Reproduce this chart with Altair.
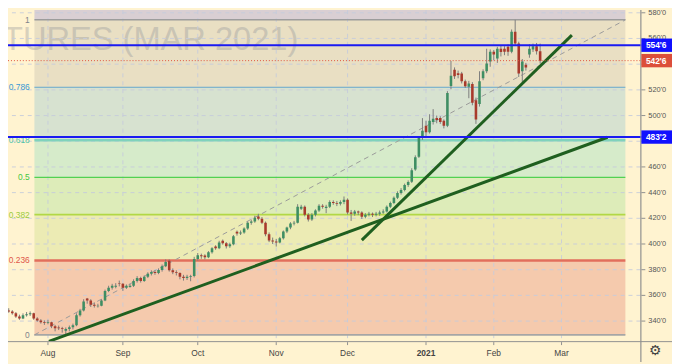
import altair as alt
import pandas as pd

# ---------------- data ----------------
opens = [349.5, 348.25, 347.5, 346, 343.5, 342, 344.5, 345.25, 346, 342,
         340.5, 339, 338.5, 339, 336, 335, 334.5, 332.5, 333.75, 335.25,
         336.75, 344.5, 348.25, 357.5, 356, 352.75, 351.5, 352, 356, 363.5,
         366, 366.75, 369.5, 369, 366, 366.5, 367.5, 371.25, 373.5, 371.25,
         374.5, 376.75, 378.25, 377.5, 379.75, 382.75, 387, 379.5, 378, 377.5,
         374.5, 373.5, 374.5, 375, 388.25, 391.25, 391, 389.75, 393.5, 398,
         396.75, 402.5, 400.5, 398.25, 399.75, 409.5, 408.25, 409, 412, 416.5,
         417.5, 421.5, 419.75, 416.5, 407.5, 402.75, 402, 401.25, 404.5, 409.75,
         412.75, 416, 416.5, 427.5, 429, 422.75, 419, 422.75, 426, 429.75,
         428, 429, 432.75, 432, 431.25, 432.75, 434.5, 424.5, 423.5, 425.25,
         424.5, 421.25, 422.75, 423.5, 422.75, 423.5, 424.5, 425.25, 429, 432,
         436, 439.75, 442, 446, 448.5, 458, 468, 483.5, 492, 487,
         495, 498, 498, 496, 492, 523, 535.75, 533, 532.75, 526.75,
         522.5, 524.5, 512, 509, 529, 534.5, 542, 549.75, 544.5, 552,
         552, 553.5, 549.75, 565.25, 556, 534.5, 539.5, 547.5, 551.5, 554,
         550]
highs = [351, 350, 348.5, 347, 345, 346, 347, 347.5, 346.5, 343,
         341.5, 340.5, 341, 339.5, 337, 336.5, 335.5, 335, 336.5, 338,
         346, 349.5, 357, 358, 357, 354.5, 353.5, 357, 364.5, 367.5,
         369, 369.5, 371.5, 369.5, 368.5, 369, 372.5, 375, 374.5, 375.5,
         378, 379.5, 379.5, 381, 384, 388, 388, 381, 379.5, 378,
         376, 376, 376, 390, 393, 392.5, 392, 394.5, 397.5, 399,
         402.5, 403.5, 401.5, 401, 407, 410.5, 410.5, 413, 417.5, 419,
         422, 423.5, 421, 417.5, 409, 405, 404, 405.5, 410.5, 413.5,
         417, 418, 431, 430.5, 430, 424, 424, 427, 431, 431,
         430.5, 434, 434, 433.5, 434, 437, 435.5, 426.5, 426.5, 426,
         425.5, 424, 425, 424.5, 425, 426, 427, 430, 433, 437,
         441, 443.5, 447, 449.5, 459, 469, 484, 498, 496, 501,
         505, 500, 499.5, 497, 519, 542.5, 537.5, 535, 534, 528,
         527, 526, 514, 534.5, 536, 552, 551.5, 551, 553.5, 554.5,
         554, 555.5, 567, 574.5, 557.5, 544, 541, 555.5, 556, 556.5,
         556]
lows = [347, 346.5, 345, 342.5, 341, 341.5, 343.5, 344, 341, 339.5,
        338, 337, 337.5, 334.5, 332, 333, 331, 329.25, 332, 333.5,
        336, 343.5, 347.5, 353.5, 351, 350.5, 350.5, 351.5, 355.5, 362.5,
        364.5, 365.5, 367, 363.5, 365, 366, 366.5, 370, 370, 370.5,
        373.5, 375.5, 376, 376.5, 378.5, 382, 378.5, 376.5, 375.5, 372.5,
        371.5, 372, 371, 374, 387, 388.5, 388, 389, 392.5, 395.5,
        396, 399.5, 396.5, 397, 399, 406.5, 407, 408, 411, 415,
        416.5, 418.5, 415.5, 406, 401.5, 400, 398, 400.5, 403.5, 408.5,
        411.5, 414.5, 416, 426.5, 421.5, 417.5, 418, 421.5, 425, 427.5,
        424, 428, 430.5, 429.5, 430, 431, 423, 418, 422, 422.5,
        419.5, 420, 421.5, 421, 421.5, 422, 423.5, 424.5, 428, 431,
        435, 438.5, 441, 444.5, 447.5, 457, 467, 481, 483, 486,
        493, 494, 493.5, 490, 491, 520.5, 528.5, 529, 525, 521.5,
        513.5, 508, 493.5, 507, 527.5, 533, 538, 543, 541, 546,
        547, 546.5, 548.5, 554.5, 530, 525.5, 535, 545, 549.5, 547.5,
        540.5]
closes = [348.25, 347.5, 346, 343.5, 342, 344.5, 345.25, 346, 342, 340.5,
          339, 338.5, 339, 336, 334.5, 334.5, 333.75, 333.75, 335.25, 336.75,
          344.5, 348.25, 355.25, 356, 352.75, 352, 352, 356, 363.5, 366,
          367.5, 367.5, 369, 366, 367.5, 367.5, 371.25, 373.5, 371.25, 374.5,
          376.75, 378.25, 377.5, 379.75, 382.75, 386, 379.5, 378, 377.5, 374.5,
          373.5, 374.5, 375, 388.25, 391.25, 390.5, 389.75, 393.5, 396.75, 396.75,
          401.25, 400.5, 398.25, 399.75, 406, 408.25, 409, 412, 416.5, 417.5,
          420.5, 419.75, 416.5, 407.5, 402.75, 402, 401.25, 404.5, 409.75, 412.75,
          416, 416.5, 429, 429, 422.75, 419, 422.75, 426, 429.75, 429,
          429, 432.75, 432, 431.25, 432.75, 434.5, 424.5, 423.5, 425.25, 424.5,
          421.25, 422.75, 423.5, 422.75, 423.5, 424.5, 425.25, 429, 432, 436,
          439.75, 442, 446, 448.25, 457.5, 467.5, 483, 488.25, 487, 496,
          497.5, 496.5, 495, 492, 517.5, 531, 530.5, 531.5, 526.75, 522.75,
          525, 510, 497, 526.75, 534.5, 540.5, 549.75, 547.5, 552, 549.5,
          549.75, 549.75, 565.25, 556, 532.75, 542, 537.5, 552, 554, 550,
          542.75]

month_bars = [12, 33, 54, 76, 96, 118, 137, 156]
month_labels = ["Aug", "Sep", "Oct", "Nov", "Dec", "2021", "Feb", "Mar"]
grid_prices = [340, 360, 380, 400, 420, 440, 460, 480, 500, 520, 540, 560, 580]
label_prices = [340, 360, 380, 400, 420, 440, 460, 500, 520, 560, 580]

fib_ratios = [1, 0.786, 0.618, 0.5, 0.382, 0.236, 0]
fib_texts = ["1", "0.786", "0.618", "0.5", "0.382", "0.236", "0"]
fib_low, fib_high = 329.25, 574.5
fib_start_bar, fib_end_bar = 8.2, 173.9
band_top_ratios = [1.3, 1, 0.786, 0.618, 0.5, 0.382, 0.236]
band_bottom_ratios = [1, 0.786, 0.618, 0.5, 0.382, 0.236, 0]

level_prices = [554.75, 483.25]
level_texts = ["554'6", "483'2"]
last_price = [542.75]
last_text = ["542'6"]

trend_ids = ["long", "long", "steep", "steep"]
trend_bars = [12.27, 168.9, 100.0, 158.9]
trend_prices = [324.2, 483.1, 403.0, 562.6]

watermark = "TURES (MAR 2021)"

# ---------------- styles ----------------
band_colors = ["#d9cfd3", "#e9dfc3", "#d7e2d0", "#d6ebca", "#ddecb9", "#ecebb4", "#f5caad"]
fib_line_colors = ["#9c9c9c", "#64a6cc", "#80d2bc", "#52d152", "#b2d846", "#e26e5c", "#a6a6a6"]
fib_line_widths = [1.5, 1, 2.5, 1.2, 1.8, 2.5, 2]
fib_label_colors = ["#80838c", "#3a99d4", "#4fc3a8", "#43c743", "#9ccb3b", "#e0574a", "#80838c"]
UP, DOWN = "#3e8e63", "#a83a2c"
BG = "#fff3d0"
AX = "#8f8f8f"
FONT = "Liberation Sans"

W, H = 640, 335
xs = alt.Scale(domain=[2.18, 176.72], nice=False, zero=False)
ys = alt.Scale(domain=[324.38, 582.08], nice=False, zero=False)

# ---------------- frames ----------------
candles = pd.DataFrame({"bar": list(range(len(closes))), "open": opens,
                        "high": highs, "low": lows, "close": closes})
candles["dir"] = ["up" if c >= o else "down" for o, c in zip(opens, closes)]

rng = fib_high - fib_low
bands = pd.DataFrame({
    "b0": fib_start_bar, "b1": fib_end_bar,
    "p0": [fib_low + r * rng for r in band_bottom_ratios],
    "p1": [fib_low + r * rng for r in band_top_ratios],
    "col": band_colors})
fib = pd.DataFrame({
    "b0": fib_start_bar, "b1": fib_end_bar,
    "price": [fib_low + r * rng for r in fib_ratios],
    "txt": fib_texts, "lc": fib_line_colors, "w": fib_line_widths,
    "tc": fib_label_colors})
fib_diag = pd.DataFrame({"bar": [fib_start_bar, fib_end_bar], "price": [fib_low, fib_high]})
trends = pd.DataFrame({"id": trend_ids, "bar": trend_bars, "price": trend_prices})
months = pd.DataFrame({"bar": month_bars, "label": month_labels})
gridp = pd.DataFrame({"price": grid_prices})
labp = pd.DataFrame({"price": label_prices})
levels = pd.DataFrame({"price": level_prices, "txt": level_texts})
last = pd.DataFrame({"price": last_price, "txt": last_text})
one = pd.DataFrame({"t": [watermark]})


def X(f):
    return alt.X(f, type="quantitative", scale=xs, axis=None)


def Y(f):
    return alt.Y(f, type="quantitative", scale=ys, axis=None)


band_layer = alt.Chart(bands).mark_rect(clip=True).encode(
    x=X("b0"), x2="b1", y=Y("p0"), y2="p1", color=alt.Color("col:N", scale=None))

wm = alt.Chart(one).mark_text(align="left", baseline="alphabetic", font=FONT,
                              fontSize=33, color="#8b8e96", opacity=0.33).encode(
    text="t:N", x=alt.value(-5), y=alt.value(40))

vgrid = alt.Chart(months).mark_rule(strokeDash=[4, 4], color="#c6cbdb", strokeWidth=1,
                                    opacity=0.9).encode(x=X("bar"))
hgrid = alt.Chart(gridp).mark_rule(strokeDash=[4, 4], color="#c6cbdb", strokeWidth=1,
                                   opacity=0.9).encode(y=Y("price"))

fib_lines = alt.Chart(fib).mark_rule(clip=True).encode(
    x=X("b0"), x2="b1", y=Y("price"),
    color=alt.Color("lc:N", scale=None),
    strokeWidth=alt.StrokeWidth("w:Q", scale=None))
fib_lbl = alt.Chart(fib).mark_text(align="right", baseline="middle", font=FONT,
                                   fontSize=8.5).encode(
    x=alt.value(22), y=Y("price"), text="txt:N", color=alt.Color("tc:N", scale=None))

diag = alt.Chart(fib_diag).mark_line(strokeDash=[5, 4], color="#9a9a9a", strokeWidth=1,
                                     clip=True).encode(x=X("bar"), y=Y("price"))

wicks = alt.Chart(candles).mark_rule(color="#7d7d7d", strokeWidth=1, clip=True).encode(
    x=X("bar"), y=Y("low"), y2="high")
bodies = alt.Chart(candles).mark_bar(size=2.6, clip=True).encode(
    x=X("bar"), y=Y("open"), y2="close",
    color=alt.Color("dir:N", scale=alt.Scale(domain=["up", "down"], range=[UP, DOWN]),
                    legend=None))

trend_layer = alt.Chart(trends).mark_line(color="#1f5f1f", strokeWidth=3, clip=True).encode(
    x=X("bar"), y=Y("price"), detail="id:N")

blue_lines = alt.Chart(levels).mark_rule(color="#1a1af2", strokeWidth=2).encode(
    y=Y("price"), x=alt.value(0), x2=alt.value(641))
red_line = alt.Chart(last).mark_rule(color="#e0503c", strokeWidth=1, strokeDash=[1, 2]).encode(
    y=Y("price"), x=alt.value(0), x2=alt.value(641))

# ---- hand-drawn axes ----
x_domain = alt.Chart(one).mark_rule(color=AX).encode(
    x=alt.value(0), x2=alt.value(672), y=alt.value(335.5))
y_domain = alt.Chart(one).mark_rule(color=AX, strokeWidth=1.2).encode(
    x=alt.value(640.5), y=alt.value(0), y2=alt.value(356))
x_ticks = alt.Chart(months).mark_rule(color=AX).encode(
    x=X("bar"), y=alt.value(336), y2=alt.value(339))
x_lbl = alt.Chart(months).transform_filter("datum.label != '2021'").mark_text(
    font=FONT, fontSize=8.5, color="#444", align="center", baseline="middle").encode(
    x=X("bar"), y=alt.value(347), text="label:N")
x_lbl_bold = alt.Chart(months).transform_filter("datum.label == '2021'").mark_text(
    font=FONT, fontSize=8.5, fontWeight="bold", color="#444", align="center",
    baseline="middle").encode(x=X("bar"), y=alt.value(347), text="label:N")
y_ticks = alt.Chart(gridp).mark_rule(color=AX).encode(
    y=Y("price"), x=alt.value(641), x2=alt.value(645))
y_lbl = alt.Chart(labp).transform_calculate(
    lab="format(datum.price, 'd') + \"'0\"").mark_text(
    font=FONT, fontSize=7.5, color="#555", align="left", baseline="middle").encode(
    y=Y("price"), x=alt.value(648), text="lab:N")

blue_tag = alt.Chart(levels).transform_calculate(
    lo="datum.price - 5.2", hi="datum.price + 5.2").mark_rect(color="#1010ff").encode(
    y=Y("lo:Q"), y2="hi:Q", x=alt.value(641), x2=alt.value(672))
blue_txt = alt.Chart(levels).mark_text(color="white", font=FONT, fontSize=8.5,
                                       fontWeight="bold", align="center",
                                       baseline="middle").encode(
    y=Y("price"), x=alt.value(656), text="txt:N")
red_tag = alt.Chart(last).transform_calculate(
    lo="datum.price - 5.2", hi="datum.price + 5.2").mark_rect(color="#dc4e3a").encode(
    y=Y("lo:Q"), y2="hi:Q", x=alt.value(641), x2=alt.value(672))
red_txt = alt.Chart(last).mark_text(color="white", font=FONT, fontSize=8.5,
                                    fontWeight="bold", align="center",
                                    baseline="middle").encode(
    y=Y("price"), x=alt.value(656), text="txt:N")

gear = alt.Chart(one).mark_text(text="\u2699", font="DejaVu Sans", fontSize=14,
                                color="#444", align="center", baseline="middle").encode(
    x=alt.value(655), y=alt.value(345))

chart = alt.layer(
    band_layer, wm, vgrid, hgrid, fib_lines, fib_lbl, diag,
    wicks, bodies, trend_layer, blue_lines, red_line,
    x_domain, y_domain, x_ticks, x_lbl, x_lbl_bold, y_ticks, y_lbl,
    blue_tag, blue_txt, red_tag, red_txt, gear
).properties(
    width=W, height=H, background=BG,
    autosize=alt.AutoSizeParams(type="none"),
    padding={"left": 0, "top": 0, "right": 32, "bottom": 21}
).configure_view(stroke=None)

chart.save("out.html", embed_options={"renderer": "svg", "actions": False})
